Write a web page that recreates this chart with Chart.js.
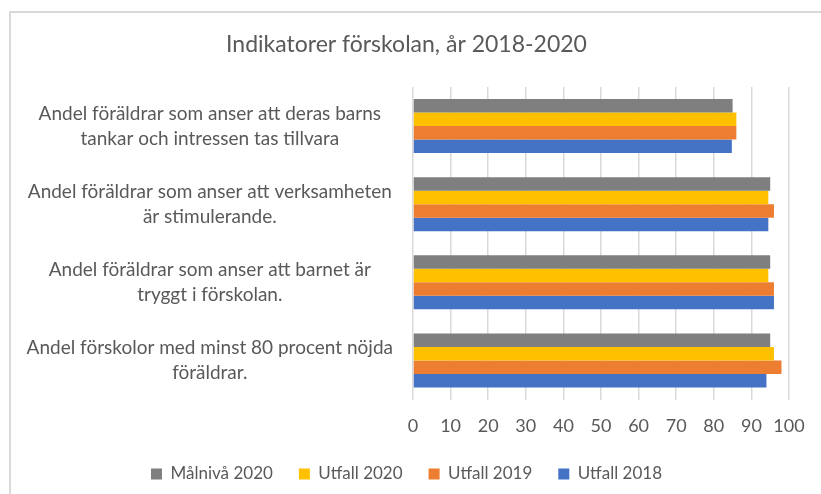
<!DOCTYPE html>
<html lang="sv">
<head>
<meta charset="utf-8">
<title>Indikatorer förskolan</title>
<script src="https://cdn.jsdelivr.net/npm/chart.js@4/dist/chart.umd.min.js"></script>
<style>
  html, body { margin: 0; padding: 0; background: #fff; overflow: hidden; }
  #frame {
    position: absolute; left: 9px; top: 11px; width: 900px; height: 600px;
    border-left: 2px solid #d9d9d9; border-top: 2px solid #d9d9d9;
  }
  #chart { position: absolute; left: 0; top: 0; }
</style>
</head>
<body>
<div id="frame"></div>
<canvas id="chart" width="821" height="494"></canvas>
<script>
// Kategorier (uppifrån och ned)
const categories = [
  ['Andel föräldrar som anser att deras barns', 'tankar och intressen tas tillvara'],
  ['Andel föräldrar som anser att verksamheten', 'är stimulerande.'],
  ['Andel föräldrar som anser att barnet är', 'tryggt i förskolan.'],
  ['Andel förskolor med minst 80 procent nöjda', 'föräldrar.']
];

// Serier (procent)
const malniva2020 = [85, 95, 95, 95];
const utfall2020  = [86, 94.5, 94.5, 96];
const utfall2019  = [86, 96, 96, 98];
const utfall2018  = [84.8, 94.5, 96, 94];

const xTicks = [0, 10, 20, 30, 40, 50, 60, 70, 80, 90, 100];

const textColor = '#595959';
const gridColor = '#d9d9d9';
const fontFamily = 'Lato, "Open Sans", sans-serif';

new Chart(document.getElementById('chart').getContext('2d'), {
  type: 'bar',
  data: {
    labels: categories,
    datasets: [
      { label: 'Målnivå 2020', data: malniva2020, backgroundColor: '#7f7f7f' },
      { label: 'Utfall 2020',  data: utfall2020,  backgroundColor: '#ffc000' },
      { label: 'Utfall 2019',  data: utfall2019,  backgroundColor: '#ed7d31' },
      { label: 'Utfall 2018',  data: utfall2018,  backgroundColor: '#4472c4' }
    ]
  },
  options: {
    indexAxis: 'y',
    responsive: false,
    animation: false,
    devicePixelRatio: 1,
    categoryPercentage: 0.69,
    barPercentage: 1,
    layout: { padding: { left: 24, right: 32, top: 0, bottom: 1.5 } },
    plugins: {
      title: {
        display: true,
        text: 'Indikatorer förskolan, år 2018-2020',
        color: textColor,
        font: { family: fontFamily, size: 23, weight: 'normal' },
        padding: { top: 31, bottom: 28.4 }
      },
      legend: {
        position: 'bottom',
        labels: {
          color: textColor,
          font: { family: fontFamily, size: 17 },
          boxWidth: 11,
          boxHeight: 11,
          padding: 26
        }
      },
      tooltip: { enabled: false }
    },
    scales: {
      x: {
        min: 0,
        max: 100,
        afterBuildTicks: function(axis) {
          axis.ticks = xTicks.map(function(v) { return { value: v }; });
        },
        grid: { color: gridColor, lineWidth: 1.5, drawTicks: false },
        border: { display: false },
        ticks: {
          color: textColor,
          font: { family: fontFamily, size: 18 },
          padding: 16,
          maxRotation: 0
        },
        afterFit: function(axis) {
          axis.height = 40;
        }
      },
      y: {
        grid: { display: false, drawTicks: false },
        border: { display: false },
        ticks: {
          color: textColor,
          font: { family: fontFamily, size: 19, lineHeight: 1.32 },
          crossAlign: 'center',
          padding: 20
        },
        afterFit: function(axis) {
          axis.width = 389;
        }
      }
    }
  }
});
</script>
</body>
</html>
